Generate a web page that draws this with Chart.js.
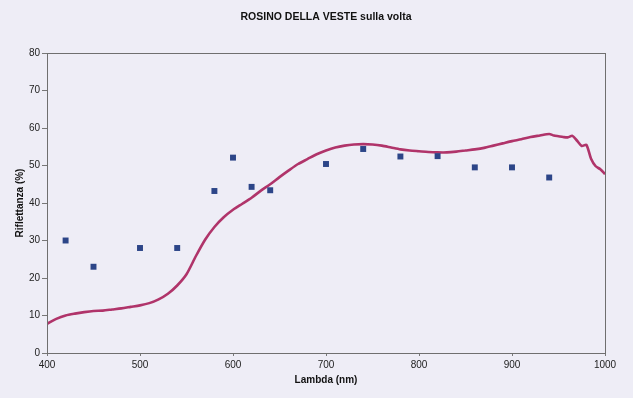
<!DOCTYPE html>
<html>
<head>
<meta charset="utf-8">
<script src="https://cdn.jsdelivr.net/npm/chart.js@4.4.1/dist/chart.umd.min.js"></script>
<style>
  html, body { margin: 0; padding: 0; background: #eeedf6; }
  #wrap { width: 633px; height: 398px; }
</style>
</head>
<body>
<div id="wrap"><canvas id="chart" width="633" height="398"></canvas></div>
<script>
// spectrum curve (lambda nm -> reflectance %)
var curveLambda = [400, 410, 420, 430, 440, 450, 460, 470, 480, 490,
    500, 510, 520, 530, 540, 550, 560, 570, 580, 590,
    600, 610, 620, 630, 640, 650, 660, 670, 680, 690,
    700, 710, 720, 730, 740, 750, 760, 770, 780, 790,
    800, 810, 820, 830, 840, 850, 860, 870, 880, 890,
    900, 910, 920, 930, 940, 945, 950, 955, 960, 965,
    970, 975, 980, 985, 990, 995, 1000];
var curveRefl = [7.8, 9.1, 10.0, 10.5, 10.9, 11.2, 11.3, 11.6, 11.9, 12.3,
    12.7, 13.3, 14.3, 15.8, 18.0, 21.0, 25.8, 30.2, 33.6, 36.2,
    38.2, 39.8, 41.4, 43.3, 45.0, 46.9, 48.7, 50.4, 51.7, 53.0,
    54.0, 54.8, 55.3, 55.6, 55.7, 55.6, 55.3, 54.8, 54.3, 54.0,
    53.8, 53.6, 53.5, 53.5, 53.7, 54.0, 54.3, 54.7, 55.3, 55.9,
    56.5, 57.0, 57.6, 58.0, 58.4, 58.0, 57.8, 57.6, 57.5, 57.9,
    56.6, 55.2, 55.5, 51.8, 49.8, 49.0, 47.7];

// camera measurements
var pointLambda = [420, 450, 500, 540, 580, 600, 620, 640, 700, 740, 780, 820, 860, 900, 940];
var pointRefl = [30, 23, 28, 28, 43.2, 52.1, 44.3, 43.4, 50.4, 54.4, 52.4, 52.5, 49.5, 49.5, 46.8];

var xTicks = [400, 500, 600, 700, 800, 900, 1000];
var yTicks = [0, 10, 20, 30, 40, 50, 60, 70, 80];

var font = "'Liberation Sans', Arial, sans-serif";

function pairs(xs, ys) {
    return xs.map(function (x, i) { return { x: x, y: ys[i] }; });
}

var frame = {
    id: 'frame',
    afterDatasetsDraw: function (chart) {
        var a = chart.chartArea, ctx = chart.ctx;
        ctx.save();
        ctx.strokeStyle = '#6f6f6f';
        ctx.lineWidth = 1;
        ctx.strokeRect(Math.round(a.left) + 0.5, Math.round(a.top) + 0.5,
            Math.round(a.right - a.left), Math.round(a.bottom - a.top));
        ctx.restore();
    }
};

new Chart(document.getElementById('chart').getContext('2d'), {
    type: 'scatter',
    data: {
        datasets: [
            {
                label: 'misure',
                data: pairs(pointLambda, pointRefl),
                pointStyle: 'rect',
                pointRadius: 4.2,
                pointBorderWidth: 0,
                backgroundColor: '#2c4588',
                borderColor: '#2c4588',
                order: 0
            },
            {
                label: 'spettro',
                data: pairs(curveLambda, curveRefl),
                showLine: true,
                pointRadius: 0,
                borderColor: '#b0346a',
                borderWidth: 2.6,
                tension: 0.25,
                order: 1
            }
        ]
    },
    options: {
        responsive: false,
        animation: false,
        layout: { padding: 0 },
        plugins: {
            legend: { display: false },
            tooltip: { enabled: false },
            title: {
                display: true,
                fullSize: false,
                text: 'ROSINO DELLA VESTE sulla volta',
                color: '#111',
                font: { family: font, size: 10.5, weight: 'bold' },
                padding: { top: 10.7, bottom: 29.7 }
            }
        },
        scales: {
            x: {
                type: 'linear',
                min: 400,
                max: 1000,
                afterBuildTicks: function (s) { s.ticks = xTicks.map(function (v) { return { value: v }; }); },
                afterFit: function (s) { s.height = 45; },
                ticks: {
                    color: '#222', font: { family: font, size: 10 }, padding: 3, maxRotation: 0,
                    callback: function (v) { return String(v); }
                },
                grid: { drawOnChartArea: false, drawTicks: true, tickLength: 3, color: '#777' },
                border: { color: '#777' },
                title: {
                    display: true,
                    text: 'Lambda (nm)',
                    color: '#111',
                    font: { family: font, size: 10, weight: 'bold' },
                    padding: { top: 0, bottom: 12 }
                }
            },
            y: {
                min: 0,
                max: 80,
                afterBuildTicks: function (s) { s.ticks = yTicks.map(function (v) { return { value: v }; }); },
                afterFit: function (s) { s.width = 47; },
                ticks: { color: '#222', font: { family: font, size: 10 }, padding: 2 },
                grid: { drawOnChartArea: false, drawTicks: true, tickLength: 5, color: '#777' },
                border: { color: '#777' },
                title: {
                    display: true,
                    text: 'Riflettanza (%)',
                    color: '#111',
                    font: { family: font, size: 10, weight: 'bold' },
                    padding: { top: 14, bottom: 0 }
                }
            },
            // empty right margin so the plot ends at 1000 like the scan
            yRight: {
                position: 'right',
                min: 0,
                max: 80,
                afterFit: function (s) { s.width = 28; },
                ticks: { display: false },
                grid: { display: false },
                border: { display: false }
            }
        }
    },
    plugins: [frame]
});
</script>
</body>
</html>
